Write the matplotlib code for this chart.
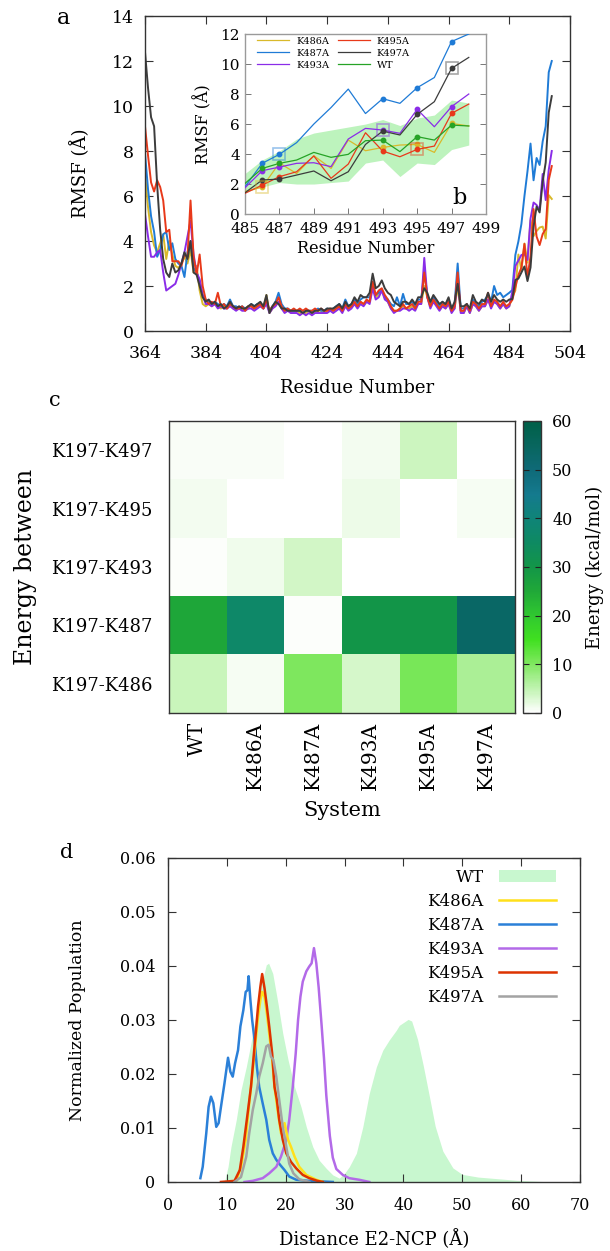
import numpy as np
import matplotlib
matplotlib.use("Agg")
import matplotlib.pyplot as plt
from matplotlib.colors import LinearSegmentedColormap
from matplotlib.ticker import FuncFormatter

plt.rcParams['font.family'] = 'DejaVu Serif'
plt.rcParams['mathtext.fontset'] = 'dejavuserif'

# ---------------- panel a/b : RMSF per residue ----------------
residues = np.arange(364, 499)

rmsf_k486a = [
    7.0, 5.5, 4.4, 3.8, 3.5, 3.9, 4.3, 3.2, 4.0, 3.4,
    2.9, 2.8, 3.0, 3.3, 3.0, 3.6, 2.6, 2.9, 1.8, 1.2,
    1.1, 1.2, 1.1, 1.2, 1.1, 1.0, 1.1, 1.0, 1.2, 1.0,
    1.0, 1.0, 1.0, 1.0, 1.1, 1.1, 1.0, 1.1, 1.1, 1.0,
    1.6, 0.8, 1.0, 1.2, 1.3, 1.1, 0.9, 0.9, 0.9, 0.9,
    0.9, 0.8, 0.8, 0.8, 0.9, 0.8, 0.9, 0.9, 0.9, 0.8,
    0.9, 0.9, 0.9, 1.0, 1.1, 0.9, 1.2, 1.0, 1.1, 1.3,
    1.1, 1.3, 1.2, 1.3, 1.3, 2.0, 1.5, 1.6, 1.8, 1.5,
    1.3, 1.0, 0.9, 0.9, 1.0, 1.1, 1.0, 1.0, 1.1, 1.0,
    1.2, 1.2, 2.0, 1.5, 1.1, 1.4, 1.2, 1.0, 1.1, 1.0,
    1.2, 0.9, 1.0, 2.0, 0.9, 0.8, 1.1, 0.8, 1.2, 1.1,
    0.9, 1.1, 1.1, 1.4, 1.1, 1.3, 1.2, 1.0, 1.2, 1.0,
    1.1, 1.5, 1.8, 3.4, 2.7, 3.89, 3.04, 4.93, 4.22, 4.44,
    4.6, 4.64, 4.11, 6.04, 5.87]

rmsf_k487a = [
    7.9, 6.3, 5.1, 4.4, 3.3, 3.6, 4.3, 4.4, 3.6, 3.9,
    3.2, 3.0, 2.9, 2.4, 3.5, 4.0, 2.8, 2.6, 2.2, 1.6,
    1.4, 1.3, 1.2, 1.3, 1.2, 1.1, 1.2, 1.1, 1.4, 1.1,
    1.1, 1.0, 1.1, 1.0, 1.0, 1.2, 1.1, 1.2, 1.2, 1.0,
    1.3, 0.9, 1.1, 1.3, 1.7, 1.2, 1.0, 1.0, 0.9, 0.9,
    0.9, 0.9, 0.8, 0.9, 0.9, 0.9, 0.9, 1.0, 0.9, 0.9,
    1.0, 0.9, 1.0, 1.1, 1.2, 1.0, 1.4, 1.1, 1.2, 1.4,
    1.2, 1.4, 1.5, 1.5, 1.5, 2.0, 1.6, 1.7, 1.8, 1.5,
    1.4, 1.2, 1.1, 1.5, 1.1, 1.65, 1.2, 1.2, 1.3, 1.1,
    1.4, 1.4, 2.7, 1.6, 1.2, 1.5, 1.3, 1.1, 1.3, 1.1,
    1.4, 1.0, 1.2, 3.0, 1.0, 1.0, 1.2, 0.9, 1.4, 1.2,
    1.1, 1.3, 1.4, 1.6, 1.3, 2.0, 1.6, 1.7, 1.5, 1.6,
    1.7, 1.82, 3.38, 3.98, 4.76, 6.0, 7.1, 8.33, 6.7, 7.69,
    7.38, 8.42, 9.1, 11.5, 12.0]

rmsf_k493a = [
    5.2, 4.2, 3.3, 3.3, 3.5, 3.6, 2.6, 1.8, 1.9, 2.0,
    2.1, 2.5, 3.0, 3.5, 4.2, 4.9, 3.4, 2.6, 2.3, 1.6,
    1.2, 1.2, 1.1, 1.2, 1.0, 1.1, 1.0, 1.0, 1.1, 1.0,
    0.9, 1.0, 0.9, 0.9, 1.0, 1.0, 0.9, 1.0, 1.1, 1.0,
    1.2, 0.8, 1.0, 1.1, 1.3, 1.0, 0.8, 0.9, 0.8, 0.8,
    0.8, 0.7, 0.8, 0.7, 0.8, 0.7, 0.8, 0.8, 0.8, 0.8,
    0.8, 0.9, 0.8, 0.9, 1.0, 0.8, 1.1, 0.9, 1.0, 1.2,
    1.0, 1.2, 1.1, 1.3, 1.2, 1.9, 1.4, 1.5, 1.8, 1.4,
    1.3, 1.0, 0.8, 0.9, 0.9, 1.0, 1.0, 0.9, 1.0, 0.9,
    1.2, 1.2, 3.25, 1.5, 1.0, 1.3, 1.1, 0.9, 1.1, 1.0,
    1.2, 0.8, 1.0, 2.4, 0.8, 0.8, 1.1, 0.8, 1.2, 1.1,
    0.9, 1.1, 1.1, 1.4, 1.0, 1.3, 1.2, 1.0, 1.2, 1.0,
    1.1, 1.75, 2.89, 3.13, 3.38, 3.42, 3.16, 5.0, 5.71, 5.6,
    5.38, 6.98, 5.82, 7.16, 8.0]

rmsf_k495a = [
    9.1, 7.8, 6.6, 6.2, 6.7, 6.4, 5.8, 4.4, 4.5, 3.1,
    3.1, 3.1, 2.9, 3.4, 3.3, 5.8, 3.3, 2.5, 3.4, 2.0,
    1.4, 1.2, 1.3, 1.2, 1.7, 1.1, 1.2, 1.0, 1.2, 1.1,
    1.0, 1.0, 1.1, 0.9, 1.1, 1.1, 1.0, 1.1, 1.2, 1.0,
    1.4, 0.9, 1.1, 1.2, 1.5, 1.1, 0.9, 1.0, 0.9, 1.0,
    0.9, 1.0, 0.9, 1.0, 0.9, 0.9, 1.0, 0.9, 1.0, 0.9,
    0.9, 1.0, 0.9, 1.0, 1.1, 0.9, 1.2, 1.0, 1.1, 1.3,
    1.1, 1.3, 1.2, 1.4, 1.3, 2.2, 1.6, 1.8, 1.9, 1.6,
    1.4, 1.1, 0.9, 0.9, 1.0, 1.2, 1.0, 1.1, 1.2, 1.0,
    1.3, 1.3, 2.6, 1.5, 1.1, 1.4, 1.2, 1.0, 1.2, 1.1,
    1.3, 0.9, 1.1, 2.6, 0.9, 0.9, 1.2, 0.9, 1.3, 1.2,
    1.0, 1.2, 1.2, 1.7, 1.1, 1.4, 1.3, 1.1, 1.3, 1.1,
    1.2, 1.38, 1.93, 2.49, 2.82, 3.87, 2.38, 3.33, 5.42, 4.2,
    3.82, 4.31, 4.53, 6.71, 7.33]

rmsf_k497a = [
    12.4, 10.8, 9.5, 9.1, 6.5, 4.5, 3.2, 2.6, 2.4, 3.0,
    2.6, 2.7, 3.0, 3.5, 3.2, 4.0, 2.6, 2.5, 2.0, 1.5,
    1.3, 1.4, 1.2, 1.3, 1.1, 1.2, 1.0, 1.1, 1.3, 1.1,
    1.0, 1.1, 1.0, 1.0, 1.1, 1.2, 1.1, 1.2, 1.3, 1.1,
    1.6, 0.8, 1.1, 1.3, 1.2, 1.0, 1.0, 0.9, 0.9, 0.9,
    0.9, 0.9, 0.8, 0.9, 0.9, 0.8, 0.9, 0.9, 1.0, 0.9,
    1.0, 1.0, 1.0, 1.1, 1.2, 1.0, 1.3, 1.1, 1.2, 1.5,
    1.3, 1.6, 1.5, 1.5, 1.7, 2.55, 1.9, 2.0, 2.25, 1.9,
    1.7, 1.6, 1.3, 1.2, 1.1, 1.3, 1.3, 1.2, 1.4, 1.2,
    1.5, 1.5, 1.9, 1.7, 1.3, 1.6, 1.4, 1.2, 1.3, 1.2,
    1.5, 1.0, 1.3, 2.1, 1.1, 1.1, 1.2, 1.0, 1.6, 1.3,
    1.2, 1.4, 1.3, 1.7, 1.3, 1.6, 1.4, 1.3, 1.4, 1.3,
    1.4, 1.42, 2.27, 2.33, 2.6, 2.87, 2.22, 2.82, 4.64, 5.53,
    5.27, 6.64, 7.49, 9.71, 10.44]

# inset (b): residues 485-498, WT mean and its spread
inset_res = np.arange(485, 499)
rmsf_wt = [2.04, 3.04, 3.38, 3.6, 4.11, 3.78, 3.98, 4.89, 4.93, 4.16, 5.16, 4.93, 5.93, 5.87]
wt_low = [1.45, 1.8, 2.1, 2.0, 2.0, 2.1, 2.2, 3.4, 3.6, 2.5, 3.4, 3.3, 4.3, 4.6]
wt_high = [2.7, 3.6, 4.2, 5.0, 5.4, 5.6, 5.8, 6.0, 6.3, 5.9, 6.4, 6.6, 7.6, 7.4]
dot_res = [486, 487, 493, 495, 497]

mutants = ['K486A', 'K487A', 'K493A', 'K495A', 'K497A']
mut_site = [486, 487, 493, 495, 497]
rmsf_all = [rmsf_k486a, rmsf_k487a, rmsf_k493a, rmsf_k495a, rmsf_k497a]
col_a = ['#d9b92a', '#1f7bd6', '#8a2ce8', '#e8391a', '#3c3c3c']
col_wt = '#26a326'

# ---------------- panel c : interaction energy ----------------
pair_labels = ['K197-K497', 'K197-K495', 'K197-K493', 'K197-K487', 'K197-K486']
systems = ['WT', 'K486A', 'K487A', 'K493A', 'K495A', 'K497A']
energy = [
    [0.5, 0.6, 0.2, 1.0, 4.0, 0.0],
    [1.0, 0.0, 0.0, 1.6, 0.0, 0.9],
    [0.3, 1.3, 3.6, 0.0, 0.1, 0.0],
    [25.5, 36.5, 0.4, 30.0, 30.0, 53.5],
    [4.3, 0.9, 10.3, 3.3, 10.6, 6.6],
]

# ---------------- panel d : distance distributions ----------------
wt_dist_x = [9.6, 10.2, 10.7, 11.6, 12.4, 13.3, 14.1, 15.0, 15.8, 16.7, 17.1, 17.8, 18.7, 19.5, 20.4,
             21.5, 22.6, 23.5, 24.6, 25.7, 26.9, 28.0, 29.1, 30.0, 30.8, 32.0, 33.1, 34.2, 35.4, 36.5,
             37.6, 38.8, 39.3, 40.8, 41.4, 42.4, 43.4, 44.4, 45.4, 46.7, 48.4, 50.0, 52.7, 56.0, 59.3, 65.2]
wt_dist_y = [0.0, 0.0028, 0.0065, 0.0115, 0.017, 0.0213, 0.0257, 0.0312, 0.0362, 0.0402, 0.0405, 0.0386,
             0.033, 0.0275, 0.0226, 0.0176, 0.0139, 0.0102, 0.0065, 0.004, 0.0025, 0.0013, 0.0007, 0.0016,
             0.0028, 0.0053, 0.0102, 0.0164, 0.0213, 0.0244, 0.0263, 0.0281, 0.029, 0.0301, 0.0298, 0.0264,
             0.0214, 0.0159, 0.0103, 0.0057, 0.0026, 0.0014, 0.0009, 0.0006, 0.0003, 0.0]

k486a_x = [11.6, 12.4, 13.2, 13.8, 14.4, 14.9, 15.3, 15.7, 16.0, 16.4, 16.8, 17.2, 17.7, 18.1, 18.7, 19.2,
           19.8, 20.4, 20.9, 21.5, 22.3, 23.5, 25.2, 26.3]
k486a_y = [0.0002, 0.0028, 0.0078, 0.0146, 0.0207, 0.0263, 0.0306, 0.0337, 0.0352, 0.0343, 0.0312, 0.0275,
           0.0226, 0.0176, 0.0127, 0.009, 0.0109, 0.0078, 0.0065, 0.0047, 0.0028, 0.0013, 0.0004, 0.0]

k487a_x = [5.5, 5.9, 6.5, 6.9, 7.3, 7.7, 8.2, 8.6, 9.0, 9.6, 10.2, 10.6, 11.0, 11.4, 11.9, 12.3, 12.8, 13.2,
           13.5, 13.7, 14.0, 14.3, 14.7, 15.1, 15.5, 16.1, 16.7, 17.2, 17.8, 18.4, 19.1, 19.8, 20.6, 21.8,
           24.0, 28.0]
k487a_y = [0.0007, 0.0028, 0.009, 0.0139, 0.0158, 0.0146, 0.0102, 0.0109, 0.0139, 0.0183, 0.023, 0.0204,
           0.0195, 0.022, 0.0244, 0.0288, 0.0318, 0.0352, 0.0355, 0.0381, 0.0337, 0.03, 0.0263, 0.0213,
           0.0176, 0.0145, 0.0115, 0.0078, 0.0053, 0.0041, 0.0031, 0.0022, 0.001, 0.0004, 0.0002, 0.0]

k493a_x = [13.0, 14.4, 16.1, 17.2, 18.4, 19.2, 20.1, 20.6, 21.2, 21.7, 22.1, 22.5, 22.9, 23.5, 24.0, 24.4,
           24.8, 25.2, 25.6, 26.1, 26.5, 26.9, 27.5, 28.0, 28.6, 29.7, 30.8, 32.5, 34.2]
k493a_y = [0.0, 0.0002, 0.0007, 0.0016, 0.0028, 0.0047, 0.0078, 0.0115, 0.0176, 0.0238, 0.03, 0.0343,
           0.0371, 0.039, 0.0399, 0.0405, 0.0433, 0.0405, 0.036, 0.029, 0.023, 0.016, 0.0085, 0.0045,
           0.0024, 0.0013, 0.0007, 0.0004, 0.0]

k495a_x = [9.0, 11.3, 12.2, 12.8, 13.6, 14.1, 14.5, 14.9, 15.3, 15.7, 16.0, 16.4, 16.8, 17.2, 17.7, 18.1,
           18.5, 18.9, 19.5, 20.1, 20.9, 21.8, 22.9, 24.0, 25.4, 26.3]
k495a_y = [0.0, 0.0002, 0.0022, 0.0065, 0.0133, 0.0176, 0.0226, 0.0275, 0.0325, 0.0362, 0.0385, 0.0359,
           0.0325, 0.0288, 0.0238, 0.0176, 0.0152, 0.0115, 0.0078, 0.0053, 0.0037, 0.0025, 0.0013, 0.0007,
           0.0002, 0.0]

k497a_x = [11.3, 12.4, 13.3, 13.8, 14.4, 15.0, 15.5, 16.1, 16.7, 17.1, 17.5, 17.9, 18.4, 18.9, 19.5, 20.1,
           20.6, 21.3, 22.3, 24.0]
k497a_y = [0.0, 0.0009, 0.0047, 0.009, 0.0133, 0.0164, 0.0195, 0.022, 0.0251, 0.0254, 0.0232, 0.0226,
           0.0195, 0.0152, 0.0102, 0.0065, 0.0034, 0.0016, 0.0005, 0.0]

col_d = {'K486A': '#ffe01a', 'K487A': '#2b80d8', 'K493A': '#b36ae8',
         'K495A': '#dd3300', 'K497A': '#a3a3a3'}
col_wt_fill = '#c8f7cf'


def style_box(ax, color='#333333'):
    for s in ax.spines.values():
        s.set_color(color)
        s.set_linewidth(1.0)


fig = plt.figure(figsize=(6.1, 12.51), dpi=100)

# ---------- a ----------
ax_a = fig.add_axes([0.2377, 0.7354, 0.6967, 0.2518])
for name, vals, c in zip(mutants, rmsf_all, col_a):
    ax_a.plot(residues, vals, color=c, lw=1.4)
ax_a.set_xlim(364, 504)
ax_a.set_ylim(0, 14)
ax_a.set_xticks(range(364, 505, 20))
ax_a.set_yticks(range(0, 15, 2))
ax_a.tick_params(direction='in', length=6, width=0.8, top=True, right=True,
                 labelsize=12.5, color='#333333')
ax_a.tick_params(axis='x', pad=10)
ax_a.tick_params(axis='y', pad=8)
ax_a.set_xlabel('Residue Number', fontsize=13)
ax_a.set_ylabel('RMSF (Å)', fontsize=13)
ax_a.xaxis.set_label_coords(0.5, -0.152)
ax_a.yaxis.set_label_coords(-0.13, 0.5)
style_box(ax_a)
fig.text(63 / 610, 1 - 18 / 1251, 'a', fontsize=16, ha='center', va='center')

# ---------- b (inset) ----------
ax_b = fig.add_axes([0.4016, 0.8289, 0.3951, 0.1439])
ax_b.fill_between(inset_res, wt_low, wt_high, color='#bdf3bd', lw=0, zorder=1)
handles = {}
for name, vals, c, site in zip(mutants, rmsf_all, col_a, mut_site):
    yv = np.array(vals[121:])
    handles[name], = ax_b.plot(inset_res, yv, color=c, lw=0.9, zorder=3, label=name)
    idx = [list(inset_res).index(r) for r in dot_res]
    ax_b.plot(inset_res[idx], yv[idx], 'o', color=c, ms=3.2, zorder=4)
    k = list(inset_res).index(site)
    ax_b.plot([site], [yv[k]], 's', mfc='none', mec=c, mew=1.2, ms=8, alpha=0.45, zorder=5)
handles['WT'], = ax_b.plot(inset_res, rmsf_wt, color=col_wt, lw=0.9, zorder=3, label='WT')
idx = [list(inset_res).index(r) for r in dot_res]
ax_b.plot(inset_res[idx], np.array(rmsf_wt)[idx], 'o', color=col_wt, ms=3.2, zorder=4)
ax_b.set_xlim(485, 499)
ax_b.set_ylim(0, 12)
ax_b.set_xticks(range(485, 500, 2))
ax_b.set_yticks(range(0, 13, 2))
ax_b.tick_params(direction='in', length=4, width=0.7, right=True, labelsize=11,
                 color='#777777')
ax_b.tick_params(axis='x', pad=5.5)
ax_b.tick_params(axis='y', pad=3.5)
ax_b.set_xlabel('Residue Number', fontsize=11.5)
ax_b.set_ylabel('RMSF (Å)', fontsize=11.5)
ax_b.xaxis.set_label_coords(0.5, -0.145)
ax_b.yaxis.set_label_coords(-0.135, 0.5)
style_box(ax_b, '#9a9a9a')
order = ['K486A', 'K487A', 'K493A', 'K495A', 'K497A', 'WT']
ax_b.legend([handles[n] for n in order], order, ncol=2, loc='upper left',
            bbox_to_anchor=(0.05, 0.985), frameon=False, fontsize=7,
            handlelength=3.3, handletextpad=0.7, columnspacing=0.9,
            labelspacing=0.3, borderaxespad=0, borderpad=0)
ax_b.text(0.892, 0.089, 'b', transform=ax_b.transAxes, fontsize=16,
          ha='center', va='center')

# ---------- c ----------
cmap = LinearSegmentedColormap.from_list('energy', [
    (0 / 60, '#ffffff'), (10 / 60, '#80e860'), (15 / 60, '#40e020'),
    (20 / 60, '#30c830'), (25 / 60, '#20a838'), (30 / 60, '#139648'),
    (35 / 60, '#0e8a62'), (40 / 60, '#0f8478'), (45 / 60, '#147a8e'),
    (50 / 60, '#0f6a78'), (55 / 60, '#08665e'), (60 / 60, '#006048')])

ax_c = fig.add_axes([0.2770, 0.4301, 0.5672, 0.2334])
im = ax_c.imshow(energy, cmap=cmap, vmin=0, vmax=60, aspect='auto',
                 interpolation='nearest')
ax_c.set_xticks(range(len(systems)))
ax_c.set_xticklabels(systems, rotation=90, fontsize=14.5)
ax_c.set_yticks(range(len(pair_labels)))
ax_c.set_yticklabels(pair_labels, fontsize=13)
ax_c.tick_params(length=0)
ax_c.tick_params(axis='x', pad=6.5)
ax_c.tick_params(axis='y', pad=12)
ax_c.set_xlabel('System', fontsize=15)
ax_c.set_ylabel('Energy between', fontsize=17)
ax_c.xaxis.set_label_coords(0.5, -0.30)
ax_c.yaxis.set_label_coords(-0.38, 0.5)
style_box(ax_c)

cax = fig.add_axes([0.8574, 0.4301, 0.0295, 0.2334])
cb = fig.colorbar(im, cax=cax, ticks=range(0, 61, 10))
cb.outline.set_edgecolor('#333333')
cb.outline.set_linewidth(1.0)
cax.tick_params(direction='in', length=4, width=0.8, color='#222222',
                left=True, right=True, labelsize=11.5, pad=8)
cax.text(4.0, 0.5, 'Energy (kcal/mol)', transform=cax.transAxes, rotation=90,
         ha='center', va='center', fontsize=13)
fig.text(55 / 610, 1 - 400 / 1251, 'c', fontsize=15, ha='center', va='center')

# ---------- d ----------
ax_d = fig.add_axes([0.2754, 0.0552, 0.6754, 0.2590])
h_wt = ax_d.fill_between(wt_dist_x, 0, wt_dist_y, color=col_wt_fill, lw=0, label='WT')
lines_d = {}
lines_d['K487A'], = ax_d.plot(k487a_x, k487a_y, color=col_d['K487A'], lw=1.8)
lines_d['K493A'], = ax_d.plot(k493a_x, k493a_y, color=col_d['K493A'], lw=1.8)
lines_d['K486A'], = ax_d.plot(k486a_x, k486a_y, color=col_d['K486A'], lw=1.8)
lines_d['K495A'], = ax_d.plot(k495a_x, k495a_y, color=col_d['K495A'], lw=1.8)
lines_d['K497A'], = ax_d.plot(k497a_x, k497a_y, color=col_d['K497A'], lw=1.8)
ax_d.set_xlim(0, 70)
ax_d.set_ylim(0, 0.06)
ax_d.set_xticks(range(0, 71, 10))
ax_d.set_yticks(np.arange(0, 0.061, 0.01))
ax_d.yaxis.set_major_formatter(FuncFormatter(lambda v, _: '0' if abs(v) < 1e-9 else f'{v:.2f}'))
ax_d.tick_params(direction='in', length=6, width=0.8, top=True, right=True,
                 labelsize=11.5, color='#333333')
ax_d.tick_params(axis='x', pad=11)
ax_d.tick_params(axis='y', pad=9)
ax_d.set_xlabel('Distance E2-NCP (Å)', fontsize=13)
ax_d.set_ylabel('Normalized Population', fontsize=12.5)
ax_d.xaxis.set_label_coords(0.5, -0.145)
ax_d.yaxis.set_label_coords(-0.198, 0.5)
style_box(ax_d)
d_order = ['K486A', 'K487A', 'K493A', 'K495A', 'K497A']
leg = ax_d.legend([h_wt] + [lines_d[n] for n in d_order], ['WT'] + d_order,
                  loc='upper right', bbox_to_anchor=(0.942, 0.966), frameon=False,
                  fontsize=12, markerfirst=False, handlelength=3.4,
                  handletextpad=0.95, labelspacing=0.42, borderaxespad=0,
                  borderpad=0)
fig.text(67 / 610, 1 - 853 / 1251, 'd', fontsize=15, ha='center', va='center')

fig.savefig('out.png', dpi=100)
